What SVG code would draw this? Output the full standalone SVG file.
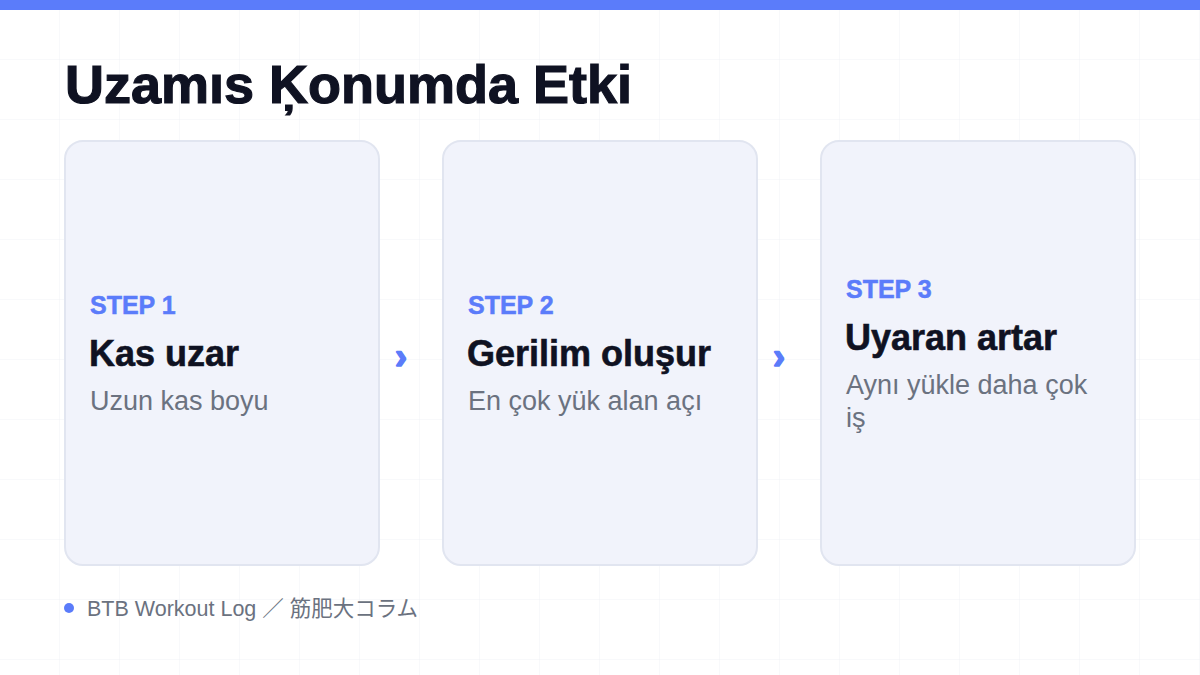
<svg xmlns="http://www.w3.org/2000/svg" width="1200" height="675" viewBox="0 0 1200 675">
<defs>
<pattern id="grid" width="60" height="60" patternUnits="userSpaceOnUse">
<path d="M60 0 V60 M0 60 H60" fill="none" stroke="#f0f2f6" stroke-width="1"/>
</pattern>
</defs>
<style>
.card{fill:#f1f3fb;stroke:#e1e5f0;stroke-width:2}
.step{font-family:"Liberation Sans",Arial,sans-serif;font-weight:700;font-size:25px;fill:#5b7cfa;stroke:#5b7cfa;stroke-width:0.5}
.head{font-family:"Liberation Sans",Arial,sans-serif;font-weight:700;font-size:36px;fill:#0f1222;stroke:#0f1222;stroke-width:0.6}
.desc{font-family:"Liberation Sans",Arial,sans-serif;font-weight:400;font-size:27px;fill:#6b7280}
.arrow{font-family:"Liberation Sans",Arial,sans-serif;font-weight:700;font-size:36px;fill:#5b7cfa;stroke:#5b7cfa;stroke-width:1.6;stroke-linejoin:round}
</style>
<rect width="1200" height="675" fill="#ffffff"/>
<rect width="1200" height="675" fill="url(#grid)"/>
<rect width="1200" height="10" fill="#5b7cfa"/>
<text x="65" y="103" font-family="'Liberation Sans',Arial,sans-serif" font-weight="700" font-size="54" fill="#0f1222" stroke="#0f1222" stroke-width="1.2">Uzamıs Ķonumda Etki</text>
<g id="node1">
<rect class="card" x="65" y="141" width="314" height="424" rx="18"/>
<text class="step" x="90" y="314">STEP 1</text>
<text class="head" x="89" y="366">Kas uzar</text>
<text class="desc" x="90" y="410">Uzun kas boyu</text>
</g>
<g id="node2">
<rect class="card" x="443" y="141" width="314" height="424" rx="18"/>
<text class="step" x="468" y="314">STEP 2</text>
<text class="head" x="467" y="366">Gerilim oluşur</text>
<text class="desc" x="468" y="410">En çok yük alan açı</text>
</g>
<g id="node3">
<rect class="card" x="821" y="141" width="314" height="424" rx="18"/>
<text class="step" x="846" y="298">STEP 3</text>
<text class="head" x="845" y="350">Uyaran artar</text>
<text class="desc" x="846" y="394">Aynı yükle daha çok</text>
<text class="desc" x="846" y="427">iş</text>
</g>
<g id="connectors">
<text class="arrow" x="395" y="369">›</text>
<text class="arrow" x="773" y="369">›</text>
</g>
<g id="footer">
<circle cx="69" cy="608" r="5" fill="#5b7cfa"/>
<text x="87" y="616" font-family="'Liberation Sans','Noto Sans CJK JP',sans-serif" font-size="21.5" fill="#6b7280">BTB Workout Log ／ 筋肥大コラム</text>
</g>
</svg>
